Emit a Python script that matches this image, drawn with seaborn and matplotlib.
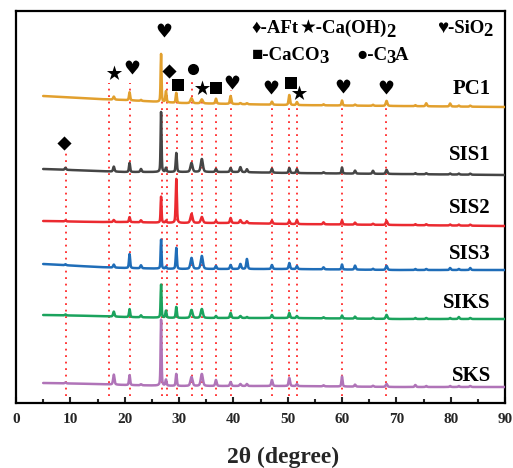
import numpy as np
import pandas as pd
import matplotlib
matplotlib.use("Agg")
import matplotlib.pyplot as plt
import seaborn as sns

# ---- data -----------------------------------------------------------------
samples = ["PC1", "SIS1", "SIS2", "SIS3", "SIKS", "SKS"]
colors = ["#E2A02E", "#454545", "#EB2A30", "#1F6DB8", "#1BA35D", "#B074B8"]

# stacked baseline level of every pattern at a few 2θ anchors
base_angles = [5, 15, 20, 30, 40, 50, 70, 90]
base_levels = {
    "PC1":  [307, 304, 303, 300, 299, 298, 297, 296],
    "SIS1": [234, 232, 231, 231, 231, 230, 229, 228],
    "SIS2": [182, 181, 181, 180, 180, 179, 178, 177],
    "SIS3": [139, 136, 135, 134, 134, 134, 133, 133],
    "SIKS": [88, 87, 86, 85, 85, 85, 84, 84],
    "SKS":  [20, 19, 18, 17, 17, 17, 16, 16],
}

# reflection positions (2θ) and net peak intensities per sample
peak_pos = [9.1, 18.0, 20.9, 23.0, 26.7, 27.6, 29.5, 32.3, 34.2, 36.8, 39.5,
            41.3, 42.5, 47.1, 50.3, 51.7, 56.6, 60.0, 62.4, 65.7, 68.2, 73.5,
            75.5, 79.9, 81.5, 83.6]
peak_width = [0.3, 0.3, 0.25, 0.3, 0.2, 0.25, 0.25, 0.45, 0.45, 0.3, 0.3,
              0.35, 0.3, 0.3, 0.3, 0.3, 0.3, 0.25, 0.3, 0.3, 0.35, 0.3,
              0.3, 0.3, 0.3, 0.3]
peak_int = {
    "PC1":  [0, 3, 8, 1, 48, 11, 10, 5, 4, 5, 8, 1, 1, 3, 10, 3, 1, 5, 1, 1, 5, 1, 3, 3, 1, 1],
    "SIS1": [2, 5, 9, 3, 60, 4, 19, 9, 13, 3, 4, 5, 3, 4, 5, 4, 1, 6, 3, 3, 4, 1, 1, 1, 1, 1],
    "SIS2": [1, 2, 5, 2, 26, 2, 44, 9, 6, 2, 5, 3, 2, 3, 3, 4, 2, 4, 2, 1, 4, 1, 1, 1, 1, 1],
    "SIS3": [1, 3, 14, 3, 29, 2, 21, 11, 13, 3, 4, 5, 10, 4, 6, 3, 2, 5, 4, 1, 4, 1, 1, 2, 1, 2],
    "SIKS": [1, 5, 8, 2, 33, 7, 11, 8, 9, 2, 5, 2, 1, 3, 5, 2, 1, 3, 2, 1, 4, 1, 1, 1, 2, 1],
    "SKS":  [1, 10, 10, 1, 66, 6, 12, 9, 12, 6, 4, 2, 2, 6, 8, 2, 1, 10, 2, 1, 3, 2, 1, 1, 1, 1],
}

# dotted guide lines: 2θ position and upper end
guide_pos = [9.2, 17.1, 21.0, 26.9, 27.8, 29.6, 32.4, 34.2, 36.8, 39.6,
             47.1, 50.2, 51.7, 60.0, 68.1]
guide_top = [253, 320, 320, 303, 324, 311, 323, 306, 306, 313,
             306, 306, 303, 306, 306]

# phase symbols above the reflections
sym_phase = ["SiO2", "CH", "SiO2", "AFt", "CaCO3", "C3A", "CH", "CaCO3",
             "SiO2", "AFt", "SiO2", "CaCO3", "CH", "SiO2", "SiO2"]
sym_x = [27.2, 18.0, 21.3, 28.2, 29.8, 32.6, 34.3, 36.8, 39.8, 8.8,
         46.9, 50.6, 52.1, 60.2, 68.1]
sym_y = [373, 330, 336, 332, 318, 334, 315, 315, 321, 260,
         316, 320, 310, 317, 316]
phase_marker = {"AFt": "D", "CH": "*", "SiO2": "$♥$", "CaCO3": "s", "C3A": "o"}
phase_msize = {"AFt": 7.2, "CH": 11.5, "SiO2": 10.0, "CaCO3": 8.0, "C3A": 8.0}

label_y = [309, 243, 190, 144, 95, 22]

# ---- build the long table ---------------------------------------------------
two_theta = np.arange(5.0, 90.0001, 0.02)


def profile(x, center, height, fwhm):
    g = np.exp(-4 * np.log(2) * ((x - center) / fwhm) ** 2)
    lor = 1.0 / (1.0 + 4 * ((x - center) / fwhm) ** 2)
    return height * (0.6 * g + 0.4 * lor)


frames = []
for s in samples:
    y = np.interp(two_theta, base_angles, base_levels[s])
    for c, h, w in zip(peak_pos, peak_int[s], peak_width):
        if h > 0:
            y = y + profile(two_theta, c, h, w)
    frames.append(pd.DataFrame({"2theta": two_theta, "intensity": y, "sample": s}))
df = pd.concat(frames, ignore_index=True)

# ---- figure -----------------------------------------------------------------
sns.set_theme(style="white")
plt.rcParams["font.family"] = ["Liberation Serif", "DejaVu Sans"]
plt.rcParams["font.weight"] = "bold"

fig = plt.figure(figsize=(5.13, 4.68), dpi=100)
ax = fig.add_axes([16 / 513, 65 / 468, 489 / 513, 392 / 468])

for gx, gt in zip(guide_pos, guide_top):
    ax.plot([gx, gx], [7, gt], color="#FF2A2A", lw=1.3,
            linestyle=(0, (1, 2.6)), zorder=1)

sns.lineplot(data=df, x="2theta", y="intensity", hue="sample",
             palette=dict(zip(samples, colors)), hue_order=samples,
             estimator=None, sort=False, legend=False, lw=1.8, ax=ax, zorder=3)

for ph, x, y in zip(sym_phase, sym_x, sym_y):
    ax.scatter([x], [y], marker=phase_marker[ph], s=phase_msize[ph] ** 2,
               color="black", linewidths=0, zorder=4)

for s, ly in zip(samples, label_y):
    ax.text(87.4, ly, s, ha="right", va="baseline", fontsize=15,
            fontweight="bold", color="black")

# phase key
key_fs = 13.5


def key_piece(x, y, main, sub=None, tail=None):
    t = ax.text(x, y, main, ha="left", va="baseline", fontsize=key_fs,
                fontweight="bold", color="black")
    if sub is not None:
        st = ax.annotate(sub, xy=(1, 0), xycoords=t, xytext=(-1.0, -2.5),
                         textcoords="offset points", ha="left", va="bottom",
                         fontsize=key_fs, fontweight="bold", color="black")
        if tail is not None:
            ax.annotate(tail, xy=(1, 0), xycoords=st, xytext=(-0.5, 2.5),
                        textcoords="offset points", ha="left", va="bottom",
                        fontsize=key_fs, fontweight="bold", color="black")


key_piece(43.4, 370, "♦-AFt")
key_piece(52.3, 370, "★-Ca(OH)", "2")
key_piece(77.5, 370, "♥-SiO", "2")
key_piece(43.4, 343, "■-CaCO", "3")
key_piece(62.7, 343, "●-C", "3", "A")

ax.set_xlim(0, 90)
ax.set_ylim(0, 392)
ax.set_yticks([])
ax.set_xticks(np.arange(0, 91, 10))
ax.set_xticks(np.arange(5, 90, 10), minor=True)
ax.tick_params(axis="x", which="major", direction="in", length=4, width=1.5,
               labelsize=11, pad=7, bottom=True)
ax.tick_params(axis="x", which="minor", direction="in", length=3, width=1.5,
               bottom=True)
for lab in ax.get_xticklabels():
    lab.set_fontweight("bold")
for sp in ax.spines.values():
    sp.set_linewidth(1.6)
    sp.set_color("black")
    sp.set_visible(True)

ax.set_xlabel("2θ (degree)", fontsize=17, fontweight="bold")
ax.xaxis.set_label_coords(0.546, -0.113)
ax.set_ylabel("")

fig.savefig("out.png", dpi=100)
